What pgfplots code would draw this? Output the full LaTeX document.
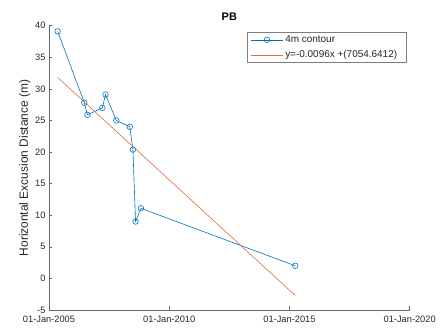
\documentclass[border=0pt]{standalone}
\usepackage{pgfplots}
\pgfplotsset{compat=1.18}
\usepackage{fontspec}
\setmainfont{Liberation Sans}
\usetikzlibrary{calc}
\definecolor{mblue}{rgb}{0,0.447,0.741}
\definecolor{morange}{rgb}{0.85,0.325,0.098}
\definecolor{morangel}{rgb}{0.87,0.43,0.23}
\definecolor{axgray}{rgb}{0.15,0.15,0.15}
\begin{document}
\begin{tikzpicture}
\begin{axis}[
  scale only axis,
  width=360.7bp, height=284.3bp,
  xmin=2005, xmax=2020, ymin=-5, ymax=40,
  axis x line*=bottom, axis y line*=left,
  axis line style={axgray!70, line width=0.6pt},
  xtick={2005,2010,2015,2020},
  xticklabels={01-Jan-2005,01-Jan-2010,01-Jan-2015,01-Jan-2020},
  ytick={-5,0,...,40},
  tick style={axgray!70, line width=0.6pt},
  tick align=inside, major tick length=3.5bp,
  ticklabel style={font=\fontsize{9.3}{10}\selectfont, text=axgray},
  xticklabel style={yshift=-3bp},
  /pgf/number format/assume math mode=true,
  ylabel={Horizontal Excusion Distance (m)},
  ylabel style={font=\fontsize{12}{13}\selectfont, text=axgray, yshift=-2bp},
  title={\textbf{PB}},
  title style={font=\fontsize{11}{12}\selectfont, yshift=-4bp},
  legend style={at={(0.992,0.978)}, anchor=north east, draw=axgray!60, font=\fontsize{10}{11}\selectfont, row sep=2.5pt, inner xsep=3.5pt, inner ysep=1.5pt},
  legend cell align=left,
  legend image code/.code={\draw[mark repeat=2, mark phase=2, #1] plot coordinates {(0bp,0bp) (16bp,0bp) (32bp,0bp)};},
]
\addplot[color=mblue, draw=mblue, line width=0.6pt, mark=o, mark size=2.8pt, mark options={line width=0.6pt, draw=mblue}] coordinates {
(2005.36,39.1) (2006.47,27.8) (2006.60,25.9) (2007.22,27.0) (2007.35,29.1) (2007.80,25.0) (2008.36,24.0) (2008.49,20.4) (2008.60,9.0) (2008.82,11.1) (2015.24,2.0)
};
\addlegendentry{\textcolor{axgray}{4m contour}}
\addplot[color=morangel, draw=morangel, line width=0.6pt] coordinates {(2005.36,31.8) (2015.24,-2.7)};
\addlegendentry{\textcolor{axgray}{y=-0.0096x +(7054.6412)}\hspace*{4bp}}
\end{axis}
\pgfresetboundingbox
\path[use as bounding box] ($(current axis.south west)+(-49bp,-24bp)$) rectangle ($(current axis.north east)+(34.3bp,25.7bp)$);
\end{tikzpicture}
\end{document}
